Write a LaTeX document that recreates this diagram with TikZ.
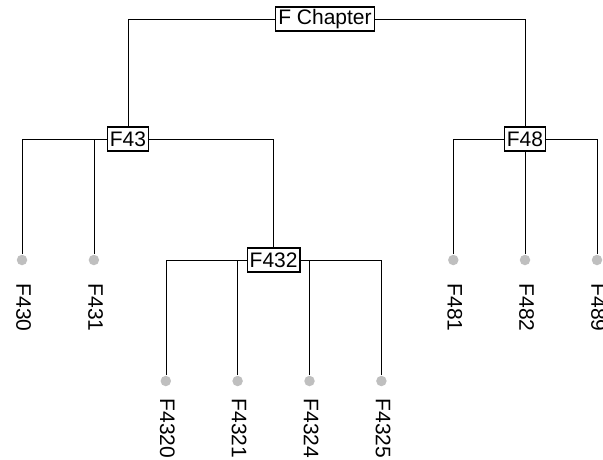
\documentclass[tikz,border=0pt]{standalone}
\usepackage{fontspec}
\setmainfont{Liberation Sans}
\usetikzlibrary{backgrounds}
\begin{document}
\begin{tikzpicture}[x=1pt, y=-1pt, line width=1.2pt, group node/.style={draw,fill=white,inner xsep=2.5pt,inner ysep=0pt,minimum height=24pt,font=\fontsize{21}{24}\selectfont}, leaf node/.style={circle,fill=gray!50,minimum size=10.5pt,inner sep=0pt}, leaf label/.style={rotate=-90,anchor=mid,inner sep=0pt,font=\fontsize{21}{24}\selectfont}]
\useasboundingbox (0,0) rectangle (603,459);
\node[group node] (root) at (325,19) {F Chapter};
\node[group node] (f43) at (128,139) {F43};
\node[group node] (f48) at (525,139) {F48};
\node[group node] (f432) at (273.6,260) {F432};
\node[leaf node] (f430) at (22,260) {};
\node[leaf node] (f431) at (93.9,260) {};
\node[leaf node] (f4320) at (165.8,381) {};
\node[leaf node] (f4321) at (237.6,381) {};
\node[leaf node] (f4324) at (309.5,381) {};
\node[leaf node] (f4325) at (381.4,381) {};
\node[leaf node] (f481) at (453.3,260) {};
\node[leaf node] (f482) at (525,260) {};
\node[leaf node] (f489) at (597,260) {};
\node[leaf label] (t430) at (19,307.5) {F430};
\node[leaf label] (t431) at (90.9,307.5) {F431};
\node[leaf label] (t4320) at (162.8,428.5) {F4320};
\node[leaf label] (t4321) at (234.6,428.5) {F4321};
\node[leaf label] (t4324) at (306.5,428.5) {F4324};
\node[leaf label] (t4325) at (378.4,428.5) {F4325};
\node[leaf label] (t481) at (450.3,307.5) {F481};
\node[leaf label] (t482) at (522,307.5) {F482};
\node[leaf label] (t489) at (594,307.5) {F489};
\begin{pgfonlayer}{background}
\draw (root.center) -| (f43);
\draw (root.center) -| (f48);
\draw (f43.center) -| (f430);
\draw (f43.center) -| (f431);
\draw (f43.center) -| (f432);
\draw (f432.center) -| (f4320);
\draw (f432.center) -| (f4321);
\draw (f432.center) -| (f4324);
\draw (f432.center) -| (f4325);
\draw (f48.center) -| (f481);
\draw (f48.center) -- (f482);
\draw (f48.center) -| (f489);
\end{pgfonlayer}
\end{tikzpicture}
\end{document}
